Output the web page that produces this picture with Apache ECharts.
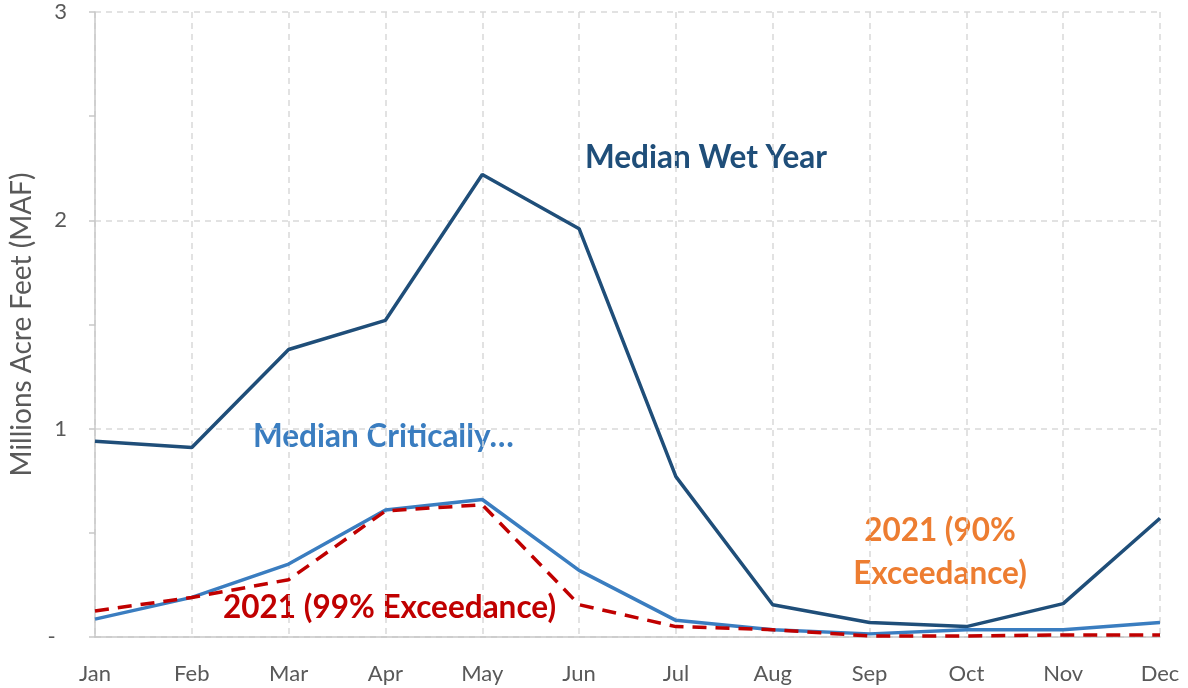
<!DOCTYPE html>
<html>
<head>
<meta charset="utf-8">
<script src="https://cdn.jsdelivr.net/npm/echarts@6/dist/echarts.min.js"></script>
<style>
  html, body { margin: 0; padding: 0; background: #fff; }
  #chart-container { width: 1188px; height: 688px; }
</style>
</head>
<body>
<div id="chart-container"></div>
<script>
const months = ["Jan", "Feb", "Mar", "Apr", "May", "Jun", "Jul", "Aug", "Sep", "Oct", "Nov", "Dec"];

const wetYear = [0.94, 0.91, 1.38, 1.52, 2.22, 1.96, 0.77, 0.155, 0.07, 0.05, 0.16, 0.57];
const criticallyDry = [0.086, 0.19, 0.35, 0.61, 0.66, 0.32, 0.08, 0.035, 0.015, 0.035, 0.035, 0.07];
const exceed99 = [0.125, 0.19, 0.275, 0.605, 0.635, 0.155, 0.05, 0.035, 0.005, 0.005, 0.01, 0.01];

const yTicks = { min: 0, max: 3, interval: 1 };

const dom = document.getElementById("chart-container");
const myChart = echarts.init(dom, null, { renderer: "canvas" });

const font = "Lato, 'Open Sans', sans-serif";
const gray = "#595959";
const labelFont = "bold 31.5px " + font;

const option = {
  animation: false,
  grid: { left: 95, right: 28, top: 12, bottom: 51, containLabel: false, outerBoundsMode: "none" },
  xAxis: {
    type: "category",
    data: months,
    boundaryGap: false,
    axisLine: { lineStyle: { color: "#c8c8c8", width: 1.5 } },
    axisTick: { show: false },
    axisLabel: { color: gray, fontSize: 22, fontFamily: font, margin: 26 },
    splitLine: { show: true, lineStyle: { color: "#d9d9d9", type: [6, 5], width: 1.5 } },
  },
  yAxis: {
    type: "value",
    min: yTicks.min,
    max: yTicks.max,
    interval: yTicks.interval,
    name: "Millions Acre Feet (MAF)",
    nameLocation: "middle",
    nameGap: 59,
    nameTextStyle: { color: gray, fontSize: 28, fontFamily: font },
    axisLine: { show: true, lineStyle: { color: "#c8c8c8", width: 1.5 } },
    axisTick: { show: true, length: 6, lineStyle: { color: "#c8c8c8", width: 1.5 } },
    minorTick: { show: true, splitNumber: 2, length: 6, lineStyle: { color: "#c8c8c8", width: 1.5 } },
    axisLabel: {
      color: gray,
      fontSize: 22,
      fontFamily: font,
      margin: 28,
      formatter: (v) => (v === 0 ? "-  " : String(v)),
    },
    splitLine: { show: true, lineStyle: { color: "#d9d9d9", type: [6, 5], width: 1.5 } },
  },
  series: [
    {
      name: "Median Wet Year",
      type: "line",
      data: wetYear,
      symbol: "none",
      lineStyle: { color: "#1f4e79", width: 3.5 },
      z: 3,
    },
    {
      name: "Median Critically Dry Year",
      type: "line",
      data: criticallyDry,
      symbol: "none",
      lineStyle: { color: "#3a7dc0", width: 3.5 },
      z: 4,
    },
    {
      name: "2021 (99% Exceedance)",
      type: "line",
      data: exceed99,
      symbol: "none",
      lineStyle: { color: "#c00000", width: 3.5, type: [14, 9] },
      z: 5,
    },
  ],
  graphic: [
    {
      type: "text",
      x: 585,
      y: 158,
      style: { text: "Median Wet Year", fill: "#1f4e79", font: labelFont, verticalAlign: "middle" },
    },
    {
      type: "text",
      x: 253,
      y: 437,
      style: { text: "Median Critically…", fill: "#3a7dc0", font: labelFont, verticalAlign: "middle" },
    },
    {
      type: "text",
      x: 223,
      y: 608,
      style: { text: "2021 (99% Exceedance)", fill: "#c00000", font: labelFont, verticalAlign: "middle" },
    },
    {
      type: "text",
      x: 940,
      y: 531,
      style: { text: "2021 (90%", fill: "#ed7d31", font: labelFont, align: "center", verticalAlign: "middle" },
    },
    {
      type: "text",
      x: 940,
      y: 574,
      style: { text: "Exceedance)", fill: "#ed7d31", font: labelFont, align: "center", verticalAlign: "middle" },
    },
  ],
};

myChart.setOption(option);
window.addEventListener("resize", myChart.resize);
</script>
</body>
</html>
